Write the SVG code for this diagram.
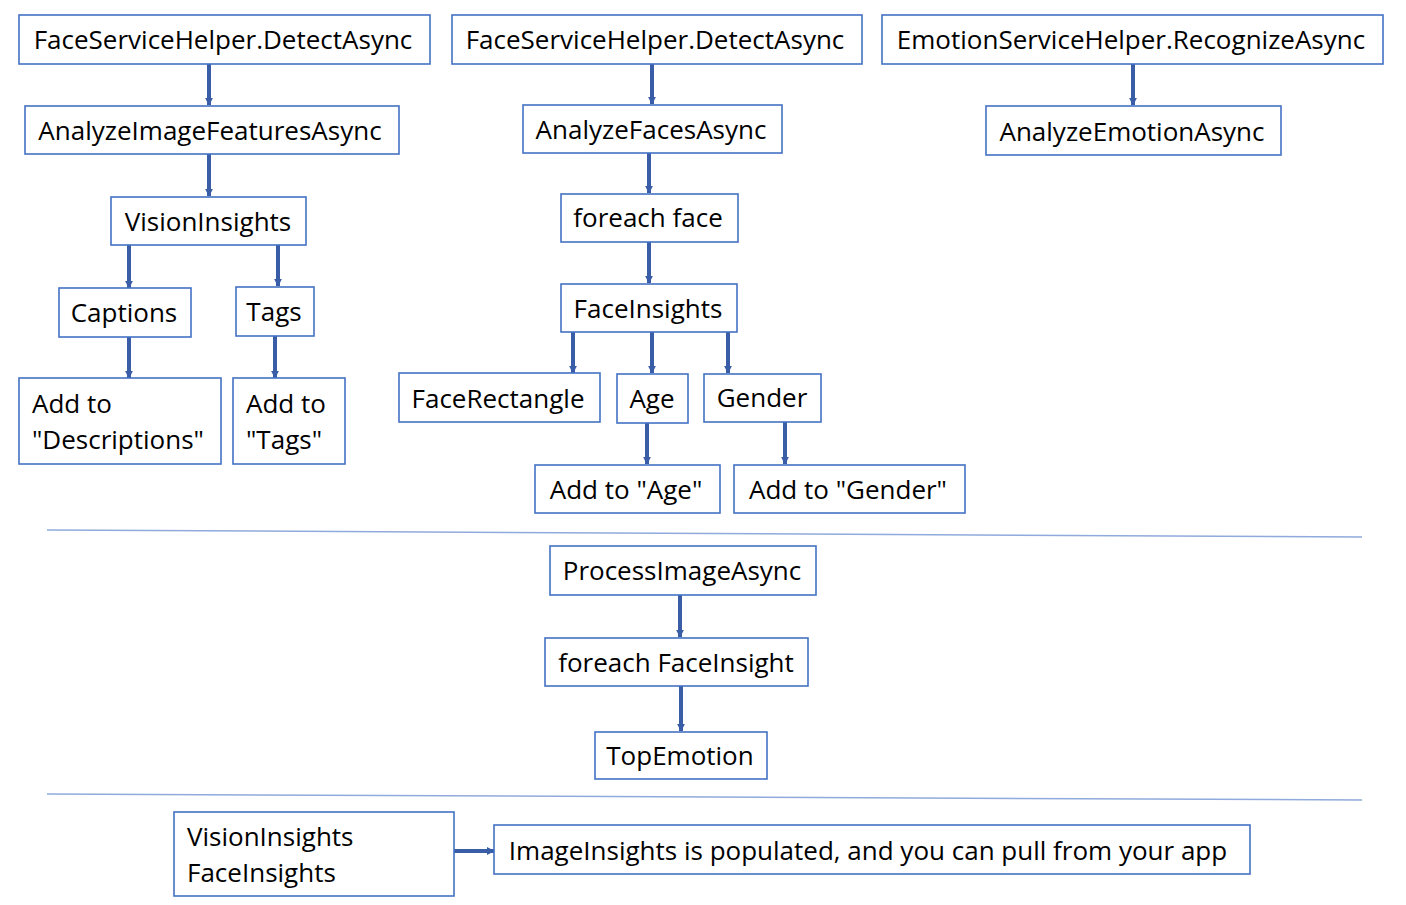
<svg xmlns="http://www.w3.org/2000/svg" width="1406" height="905" viewBox="0 0 1406 905">
<style>
.box{fill:#fff;stroke:#4472C4;stroke-width:1.6}
.t{font-family:"Open Sans","Noto Sans","Liberation Sans",sans-serif;font-size:26px;fill:#000}
.c{text-anchor:middle}
.conn{stroke:#3A5DA8;stroke-width:4;fill:none;marker-end:url(#ah)}
.sep{stroke:#8FAADC;stroke-width:1.5;fill:none}
</style>
<defs>
<marker id="ah" markerUnits="userSpaceOnUse" viewBox="0 0 10 10" refX="9" refY="5" markerWidth="8" markerHeight="8" orient="auto">
<path d="M0,0 L10,5 L0,10 z" fill="#3A5DA8"/>
</marker>
</defs>
<rect width="1406" height="905" fill="#fff"/>
<g id="separators">
<line class="sep" x1="47" y1="530" x2="1362" y2="537"/>
<line class="sep" x1="47" y1="794" x2="1362" y2="800"/>
</g>
<g id="connectors">
<line class="conn" x1="209" y1="64" x2="209" y2="105"/>
<line class="conn" x1="209" y1="154" x2="209" y2="196"/>
<line class="conn" x1="129" y1="245" x2="129" y2="288"/>
<line class="conn" x1="278" y1="245" x2="278" y2="286"/>
<line class="conn" x1="129" y1="337" x2="129" y2="378"/>
<line class="conn" x1="275" y1="336" x2="275" y2="378"/>
<line class="conn" x1="652" y1="64" x2="652" y2="104"/>
<line class="conn" x1="649" y1="153" x2="649" y2="193"/>
<line class="conn" x1="649" y1="242" x2="649" y2="283"/>
<line class="conn" x1="573" y1="332" x2="573" y2="373"/>
<line class="conn" x1="652" y1="332" x2="652" y2="373"/>
<line class="conn" x1="728" y1="332" x2="728" y2="373"/>
<line class="conn" x1="647" y1="423" x2="647" y2="464"/>
<line class="conn" x1="785" y1="422" x2="785" y2="464"/>
<line class="conn" x1="1133" y1="64" x2="1133" y2="105"/>
<line class="conn" x1="680" y1="595" x2="680" y2="637"/>
<line class="conn" x1="681" y1="686" x2="681" y2="731"/>
<line class="conn" x1="454" y1="851" x2="494" y2="851"/>
</g>
<g id="n1"><rect class="box" x="19" y="15" width="411" height="49"/><text class="t c" x="223" y="49">FaceServiceHelper.DetectAsync</text></g>
<g id="n2"><rect class="box" x="452" y="15" width="410" height="49"/><text class="t c" x="655" y="49">FaceServiceHelper.DetectAsync</text></g>
<g id="n3"><rect class="box" x="882" y="15" width="501" height="49"/><text class="t c" x="1131" y="49">EmotionServiceHelper.RecognizeAsync</text></g>
<g id="n4"><rect class="box" x="25" y="106" width="374" height="48"/><text class="t c" x="210" y="140">AnalyzeImageFeaturesAsync</text></g>
<g id="n5"><rect class="box" x="523" y="105" width="259" height="48"/><text class="t c" x="651" y="139">AnalyzeFacesAsync</text></g>
<g id="n6"><rect class="box" x="986" y="106" width="295" height="49"/><text class="t c" x="1132" y="141">AnalyzeEmotionAsync</text></g>
<g id="n7"><rect class="box" x="111" y="197" width="195" height="48"/><text class="t c" x="208" y="231">VisionInsights</text></g>
<g id="n8"><rect class="box" x="561" y="194" width="177" height="48"/><text class="t c" x="648" y="227">foreach face</text></g>
<g id="n9"><rect class="box" x="59" y="288" width="132" height="49"/><text class="t c" x="124" y="322">Captions</text></g>
<g id="n10"><rect class="box" x="236" y="287" width="78" height="49"/><text class="t c" x="274" y="321">Tags</text></g>
<g id="n11"><rect class="box" x="561" y="284" width="176" height="48"/><text class="t c" x="648" y="318">FaceInsights</text></g>
<g id="n12"><rect class="box" x="19" y="378" width="202" height="86"/><text class="t" x="32" y="413">Add to</text><text class="t" x="32" y="449">"Descriptions"</text></g>
<g id="n13"><rect class="box" x="233" y="378" width="112" height="86"/><text class="t" x="246" y="413">Add to</text><text class="t" x="246" y="449">"Tags"</text></g>
<g id="n14"><rect class="box" x="399" y="373" width="201" height="49"/><text class="t c" x="498" y="408">FaceRectangle</text></g>
<g id="n15"><rect class="box" x="617" y="374" width="71" height="49"/><text class="t c" x="652" y="408">Age</text></g>
<g id="n16"><rect class="box" x="704" y="374" width="117" height="48"/><text class="t c" x="762" y="407">Gender</text></g>
<g id="n17"><rect class="box" x="535" y="465" width="185" height="48"/><text class="t c" x="626" y="499">Add to "Age"</text></g>
<g id="n18"><rect class="box" x="734" y="465" width="231" height="48"/><text class="t c" x="848" y="499">Add to "Gender"</text></g>
<g id="n19"><rect class="box" x="550" y="546" width="266" height="49"/><text class="t c" x="682" y="580">ProcessImageAsync</text></g>
<g id="n20"><rect class="box" x="545" y="638" width="263" height="48"/><text class="t c" x="676" y="672">foreach FaceInsight</text></g>
<g id="n21"><rect class="box" x="595" y="732" width="172" height="47"/><text class="t c" x="680" y="765">TopEmotion</text></g>
<g id="n22"><rect class="box" x="174" y="812" width="280" height="84"/><text class="t" x="187" y="846">VisionInsights</text><text class="t" x="187" y="882">FaceInsights</text></g>
<g id="n23"><rect class="box" x="494" y="825" width="756" height="49"/><text class="t c" x="868" y="860">ImageInsights is populated, and you can pull from your app</text></g>
</svg>
